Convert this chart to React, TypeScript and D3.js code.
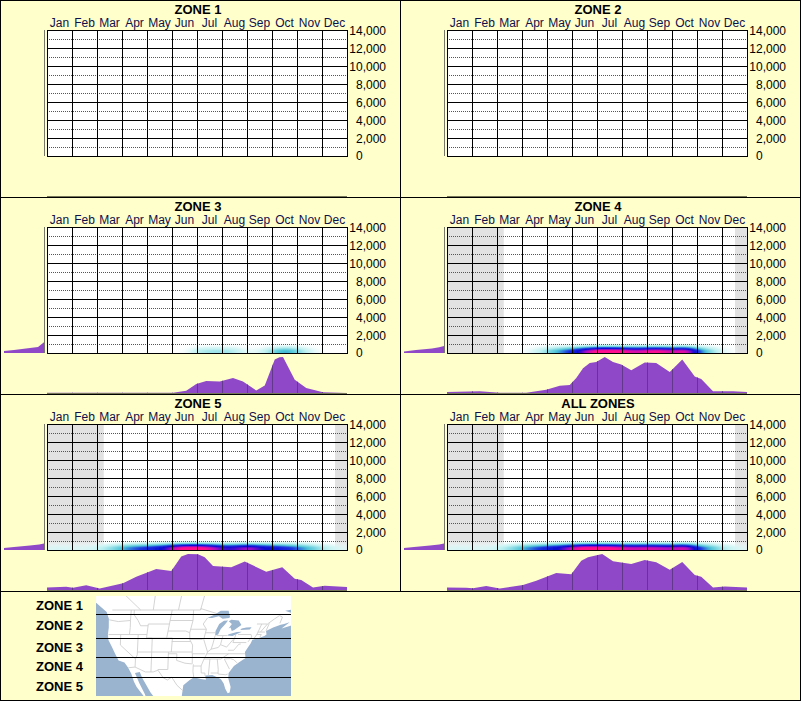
import React from 'react';
import * as d3 from 'd3';

type Pt = [number, number];

const months = ['Jan', 'Feb', 'Mar', 'Apr', 'May', 'Jun', 'Jul', 'Aug', 'Sep', 'Oct', 'Nov', 'Dec'];
const elevationTicks = [0, 2000, 4000, 6000, 8000, 10000, 12000, 14000];
const elevationMinor = [1000, 3000, 5000, 7000, 9000, 11000, 13000];
const zoneKeyLabels = ['ZONE 1', 'ZONE 2', 'ZONE 3', 'ZONE 4', 'ZONE 5'];
const zoneKeyY = [610, 630, 652, 671, 691];

// monthly sighting share, [month position, % of panel peak]
const zone3Season: Pt[] = [[0, 1], [5.04, 1], [5.57, 6], [5.97, 25], [6.37, 33], [6.91, 32], [7.44, 42], [7.84, 32], [8.37, 7], [8.71, 21], [9.11, 93], [9.3, 99], [9.44, 100], [9.91, 37], [10.37, 14], [11.04, 2], [12, 0]];
const zone4Season: Pt[] = [[0, 3], [1.31, 5], [2.11, 1], [3.17, 1], [3.97, 9], [4.51, 20], [4.91, 22], [5.17, 42], [5.44, 69], [5.71, 83], [5.97, 86], [6.31, 100], [6.64, 86], [6.97, 79], [7.37, 63], [7.91, 85], [8.37, 83], [8.91, 58], [9.41, 93], [9.91, 46], [10.17, 39], [10.64, 5], [11.44, 5], [12, 3]];
const zone5Season: Pt[] = [[0, 7], [0.77, 9], [1.04, 6], [1.57, 13], [2.11, 4], [3.04, 19], [3.57, 37], [4.37, 58], [4.97, 53], [5.37, 93], [5.64, 100], [6.04, 99], [6.31, 91], [6.64, 67], [7.37, 63], [7.91, 79], [8.77, 51], [9.41, 63], [9.91, 31], [10.17, 28], [10.64, 7], [11.11, 12], [12, 8]];
const allSeason: Pt[] = [[0, 7], [0.77, 6], [1.04, 5], [1.57, 11], [2.11, 4], [3.04, 14], [3.57, 26], [4.37, 47], [4.97, 44], [5.37, 81], [5.64, 91], [6.21, 100], [6.64, 80], [7.37, 72], [7.91, 83], [8.37, 77], [8.91, 56], [9.41, 78], [9.91, 42], [10.17, 37], [10.64, 7], [11.11, 10], [12, 7]];

// elevation share, [feet, % of panel peak]
const zone3Elev: Pt[] = [[0, 100], [220, 100], [330, 75], [550, 35], [670, 15], [1200, 0]];
const zone4Elev: Pt[] = [[0, 100], [170, 100], [330, 70], [500, 30], [640, 12], [780, 0]];
const zone5Elev: Pt[] = [[0, 100], [220, 100], [330, 75], [500, 35], [600, 12], [720, 0]];
const allElev: Pt[] = [[0, 100], [220, 100], [330, 75], [500, 35], [600, 12], [720, 0]];

// ground level heat, one value per half month (Jan 1 .. Dec 31)
const zone3Heat = [0, 0, 0, 0, 0, 0, 0, 0, 0, 0, 0, 0.06, 0.22, 0.26, 0.27, 0.22, 0.08, 0.12, 0.32, 0.46, 0.32, 0.14, 0.03, 0, 0];
const zone4Heat = [0, 0, 0, 0, 0, 0, 0.05, 0.15, 0.3, 0.45, 0.6, 0.82, 1, 1, 0.95, 0.86, 0.93, 0.95, 0.84, 0.97, 0.55, 0.3, 0.12, 0.03, 0];
const zone5Heat = [0.12, 0.14, 0.12, 0.12, 0.18, 0.28, 0.42, 0.52, 0.58, 0.66, 0.85, 1, 1, 0.9, 0.72, 0.74, 0.86, 0.72, 0.66, 0.6, 0.5, 0.38, 0.24, 0.14, 0.1];
const allHeat = [0.12, 0.14, 0.12, 0.12, 0.18, 0.28, 0.42, 0.52, 0.62, 0.72, 0.88, 1, 1, 0.97, 0.9, 0.86, 0.9, 0.86, 0.82, 0.94, 0.58, 0.4, 0.24, 0.14, 0.1];
// how the heat falls off with height, 111 ft per row from the ground up
const heatRowWeights = [1, 1, 0.97, 0.85, 0.7, 0.55, 0.38, 0.24, 0.12, 0.04];
const heatStops = [0, 0.2, 0.4, 0.55, 0.7, 0.82, 0.94];
const heatColors = ['#ffffff', '#c4f2f2', '#4cc4d6', '#1c30e0', '#0808d0', '#a40cc8', '#ff0c8c'];

// months with no data, shaded grey
const shadeWinter: Pt[] = [[0, 2.27], [11.52, 12]];

// lon / lat outlines for the key map
const landOutline: Pt[] = [[-135, 60], [-135, 53], [-128, 51], [-124.8, 48.4], [-124.1, 46.5], [-124.1, 44], [-124.4, 42], [-124.2, 40.4], [-123, 38.5], [-122, 36.8], [-120.6, 34.6], [-118.5, 34], [-117.2, 32.6], [-116, 30.8], [-115, 28.5], [-114, 27], [-112, 25], [-110, 23], [-111, 25], [-113, 28], [-114.7, 31], [-113, 31.3], [-112, 29.5], [-110.5, 27.5], [-109, 25.5], [-107, 23.5], [-100, 21], [-97.8, 22.5], [-97.5, 25], [-97.2, 27.5], [-95, 29], [-93.5, 29.8], [-91, 29.3], [-89.2, 29.1], [-89.5, 30.3], [-87, 30.4], [-85, 29.7], [-83.8, 29.2], [-82.7, 28], [-82, 26.5], [-81, 25.2], [-80.3, 25.4], [-80.1, 27], [-81.2, 29.5], [-81.2, 31], [-79.5, 33], [-77.5, 34.2], [-75.6, 35.3], [-76, 37], [-75.3, 38], [-74.2, 39.5], [-74, 40.5], [-72, 41], [-70.5, 41.6], [-70, 42], [-70.8, 43], [-69, 44], [-67, 44.8], [-66, 45], [-64.5, 45.5], [-66, 43.7], [-63.5, 44.5], [-61, 45.5], [-60, 46.5], [-64, 46.3], [-65, 48], [-68, 48.8], [-64.5, 49.3], [-60, 50], [-55, 52], [-55, 60]];
const lakes: Pt[][] = [
  [[-92, 46.7], [-90, 47.7], [-88.5, 48.8], [-86, 48.8], [-84.8, 47], [-85, 46.7], [-87, 46.5], [-88.5, 47.2], [-90.5, 46.7]],
  [[-87.5, 41.7], [-87.9, 43], [-87.5, 45], [-86.3, 45.9], [-85, 46], [-85.5, 44.9], [-86.4, 43.5], [-86.6, 42]],
  [[-84.7, 45.8], [-84, 46.2], [-81.5, 46], [-80, 44.7], [-81.7, 43.3], [-82.4, 43], [-83.3, 44], [-83.8, 43.7], [-83.3, 45]],
  [[-83.4, 41.7], [-81.5, 41.6], [-78.9, 42.8], [-80.5, 42.7], [-83, 42.1]],
  [[-79.7, 43.3], [-76.5, 43.4], [-76.3, 44.1], [-78, 44], [-79.4, 43.7]],
];
const stateLines: Pt[][] = [
  [[-123, 49], [-95, 49], [-95, 49.4], [-89.5, 48]],
  [[-75, 45], [-71.5, 45], [-70, 46.5], [-69, 47.4], [-67.8, 47], [-67.5, 45.2]],
  [[-117.1, 32.5], [-114.7, 32.7], [-111, 31.3], [-108.2, 31.3], [-106.5, 31.8], [-104.5, 29.6], [-103, 29], [-101.5, 29.8], [-99.5, 27.5], [-97.2, 25.9]],
  [[-124, 46.2], [-121, 45.7], [-117, 46]],
  [[-117, 49], [-117, 46], [-116.9, 44], [-117, 42]],
  [[-124.2, 42], [-111, 42]],
  [[-120, 42], [-120, 39], [-114.6, 35], [-114.7, 32.7]],
  [[-116, 49], [-116, 47.7], [-114.5, 46], [-113.5, 44.5], [-111, 44.5]],
  [[-111, 45], [-104, 45]],
  [[-111, 45], [-111, 41], [-109, 41]],
  [[-114, 42], [-114, 36.2], [-114.6, 35]],
  [[-109, 41], [-109, 31.3]],
  [[-114, 37], [-94.6, 37]],
  [[-111, 41], [-102, 41]],
  [[-104, 49], [-104, 41]],
  [[-102, 41], [-102, 37]],
  [[-102, 40], [-95.3, 40]],
  [[-104, 46], [-96.5, 46]],
  [[-104, 43], [-98, 43], [-96.5, 42.5]],
  [[-97.2, 49], [-96.5, 46], [-96.5, 42.5], [-95.8, 40.5], [-94.6, 39], [-94.6, 36.5]],
  [[-96.5, 43.5], [-91.2, 43.5]],
  [[-92, 46.7], [-92.8, 45], [-91.2, 43.5], [-91, 40.6], [-89.2, 37], [-89.7, 36], [-90.3, 35], [-91.2, 33], [-91, 31], [-89.7, 31], [-89.6, 30.2]],
  [[-95.8, 40.6], [-91.4, 40.6]],
  [[-91, 42.5], [-87.8, 42.5]],
  [[-87.5, 41.7], [-87.5, 39.3], [-88, 37.8]],
  [[-84.8, 41.7], [-84.8, 39.1]],
  [[-87, 41.7], [-83.4, 41.7]],
  [[-89.2, 37], [-88, 37.8], [-85.5, 38.3], [-84.8, 39.1], [-82.6, 38.4], [-80.7, 40.6]],
  [[-80.5, 42], [-80.5, 39.7], [-75.8, 39.7]],
  [[-79.8, 42], [-75.3, 42], [-74.7, 41.3], [-75.2, 39.9]],
  [[-73.4, 45], [-73.3, 42], [-73.6, 41]],
  [[-73.4, 42.7], [-71, 42.7]],
  [[-73.5, 42], [-71.8, 42], [-71.8, 41.3]],
  [[-71.5, 45], [-72.5, 42.7]],
  [[-71, 45.2], [-70.8, 43]],
  [[-89.5, 36.5], [-75.9, 36.5]],
  [[-82, 37.5], [-80, 37.5], [-78.4, 39.2], [-77.7, 39.3]],
  [[-90.3, 35], [-84.3, 35], [-81.7, 36.5]],
  [[-88.2, 35], [-88.4, 30.3]],
  [[-85.6, 35], [-85, 32], [-85, 31]],
  [[-87.6, 31], [-85, 31], [-84.9, 30.7], [-82.2, 30.5], [-81.5, 30.7]],
  [[-83.1, 35], [-81, 32.1]],
  [[-83.1, 35], [-81, 35.1], [-79.7, 34.8], [-78.5, 33.9]],
  [[-94, 33], [-91.2, 33]],
  [[-94, 33.5], [-94, 31.5], [-93.6, 29.8]],
  [[-103, 36.5], [-100, 36.5], [-100, 34.6], [-97, 33.8], [-94.5, 33.6]],
  [[-103, 37], [-103, 32], [-106.6, 32]],
  [[-94.5, 36.5], [-94.4, 33.6]],
  [[-94.6, 36.5], [-90, 36.5]],
  [[-110, 49], [-110, 60]],
  [[-102, 49], [-102, 60]],
  [[-95, 49], [-95, 53], [-89, 57]],
  [[-114, 49], [-120, 54], [-120, 60]],
];
const zoneBreakLats = [48, 41.14, 35.7, 30];

const panels = [
  { title: 'ZONE 1', col: 0, row: 0, season: null, elev: null, heat: null, shade: [] },
  { title: 'ZONE 2', col: 1, row: 0, season: null, elev: null, heat: null, shade: [] },
  { title: 'ZONE 3', col: 0, row: 1, season: zone3Season, elev: zone3Elev, heat: zone3Heat, shade: [] },
  { title: 'ZONE 4', col: 1, row: 1, season: zone4Season, elev: zone4Elev, heat: zone4Heat, shade: shadeWinter },
  { title: 'ZONE 5', col: 0, row: 2, season: zone5Season, elev: zone5Elev, heat: zone5Heat, shade: shadeWinter },
  { title: 'ALL ZONES', col: 1, row: 2, season: allSeason, elev: allElev, heat: allHeat, shade: shadeWinter },
];

const FONT = '"Liberation Sans", Arial, sans-serif';
const CREAM = '#ffffcc';

const x = d3.scaleLinear().domain([0, 12]).range([47, 347]);
const y = d3.scaleLinear().domain([0, 14000]).range([156, 30]);
const seasonY = d3.scaleLinear().domain([0, 100]).range([196, 160]);
const elevX = d3.scaleLinear().domain([0, 100]).range([44, 4]);
const heatColor = d3.scaleLinear<string>().domain(heatStops).range(heatColors).clamp(true);
const heatColumns = d3.range(0, 12, 0.08);
const ROW_FT = 111;

const Heat = ({ values }: { values: number[] }) => {
  const along = d3.interpolateBasis(values);
  return (
    <g filter="url(#soft)">
      {heatColumns.map(m => {
        const v = along(m / 12);
        if (v < 0.03) return null;
        return heatRowWeights.map((w, r) => (
          <rect
            key={`${m}-${r}`}
            x={x(m)}
            y={y((r + 1) * ROW_FT)}
            width={x(0.08) - x(0) + 0.3}
            height={y(0) - y(ROW_FT) + 0.2}
            fill={heatColor(v * w)}
            fillOpacity={Math.min(1, (v * w) / 0.15)}
          />
        ));
      })}
    </g>
  );
};

const Panel = ({ p, id }: { p: (typeof panels)[number]; id: number }) => {
  const seasonArea = d3.area<Pt>()
    .x(d => x(d[0]))
    .y0(seasonY(0))
    .y1(d => seasonY(d[1]));
  const elevArea = d3.area<Pt>()
    .y(d => y(d[0]))
    .x0(elevX(0))
    .x1(d => elevX(d[1]));

  const seasonPath = p.season ? seasonArea(p.season) ?? '' : '';

  return (
    <g transform={`translate(${p.col * 400},${p.row * 197})`}>
      <text x={198} y={14} textAnchor="middle" fontFamily={FONT} fontWeight="bold" fontSize={13}>{p.title}</text>

      {months.map((m, i) => (
        <text key={m} x={x(i + 0.5)} y={27} textAnchor="middle" fontFamily={FONT} fontSize={12} fill="#10104a">{m}</text>
      ))}

      <clipPath id={`plot-${id}`}>
        <rect x={x(0)} y={y(14000)} width={x(12) - x(0)} height={y(0) - y(14000)} />
      </clipPath>
      <clipPath id={`season-${id}`}>
        <path d={seasonPath} />
      </clipPath>

      <rect x={x(0)} y={y(14000)} width={x(12) - x(0)} height={y(0) - y(14000)} fill="#fff" />
      <g clipPath={`url(#plot-${id})`}>
        {p.shade.map((s, i) => (
          <rect key={i} x={x(s[0])} y={y(14000)} width={x(s[1]) - x(s[0])} height={y(0) - y(14000)} fill="#e2e2e2" />
        ))}
        {p.heat && <Heat values={p.heat} />}
      </g>

      {elevationMinor.map(t => (
        <line key={t} x1={x(0)} x2={x(12)} y1={y(t) + 0.5} y2={y(t) + 0.5} stroke="#555" strokeDasharray="1 1" shapeRendering="crispEdges" />
      ))}
      {elevationTicks.map(t => (
        <line key={t} x1={x(0)} x2={x(12) + 1} y1={y(t) + 0.5} y2={y(t) + 0.5} stroke="#000" shapeRendering="crispEdges" />
      ))}
      {d3.range(13).map(i => (
        <line key={i} x1={x(i) + 0.5} x2={x(i) + 0.5} y1={y(14000)} y2={y(0)} stroke="#000" shapeRendering="crispEdges" />
      ))}
      {elevationTicks.map(t => (
        <text
          key={t}
          x={t === 0 ? 356 : 386}
          y={t === 0 ? y(t) + 4 : y(t) + 5}
          textAnchor={t === 0 ? 'start' : 'end'}
          fontFamily={FONT}
          fontSize={12}
        >
          {d3.format(',')(t)}
        </text>
      ))}

      {p.elev && <path d={elevArea(p.elev) ?? ''} fill="#8f49c8" />}
      <line x1={44.5} x2={44.5} y1={y(14000)} y2={y(0)} stroke="#77776a" shapeRendering="crispEdges" />

      {p.season && <path d={seasonPath} fill="#8f49c8" />}
      {p.season && (
        <g clipPath={`url(#season-${id})`}>
          {d3.range(1, 12).map(i => (
            <line key={i} x1={x(i) + 0.5} x2={x(i) + 0.5} y1={seasonY(100)} y2={seasonY(0)} stroke="#62388c" shapeRendering="crispEdges" />
          ))}
        </g>
      )}
      <line x1={x(0)} x2={x(12)} y1={196.5} y2={196.5} stroke="#77775a" shapeRendering="crispEdges" />
    </g>
  );
};

const KeyMap = () => {
  // the base map squeezes longitudes towards the south
  const stretch = d3.scaleLinear().domain([25, 40, 49]).range([2.76, 2.85, 3.15]);
  const mapX = (d: Pt) => 107 + (d[0] + 124.7) * stretch(d[1]);
  const lat = d3.scaleLinear().domain([49, 25]).range([610, 694]);
  const line = d3.line<Pt>().x(mapX).y(d => lat(d[1]));
  const closed = d3.line<Pt>().x(mapX).y(d => lat(d[1])).curve(d3.curveLinearClosed);
  return (
    <g>
      <clipPath id="map-clip">
        <rect x={96} y={596} width={195} height={100} />
      </clipPath>
      <g clipPath="url(#map-clip)">
        <rect x={96} y={596} width={195} height={100} fill="#9ab3cf" />
        <path d={closed(landOutline) ?? ''} fill="#fff" />
        {stateLines.map((s, i) => (
          <path key={i} d={line(s) ?? ''} fill="none" stroke="#cfcfcf" strokeWidth={0.9} />
        ))}
        {lakes.map((l, i) => (
          <path key={i} d={closed(l) ?? ''} fill="#9ab3cf" />
        ))}
      </g>
      {zoneBreakLats.map(l => (
        <line key={l} x1={96} x2={291} y1={Math.round(lat(l)) + 0.5} y2={Math.round(lat(l)) + 0.5} stroke="#000" shapeRendering="crispEdges" />
      ))}
      {zoneKeyLabels.map((label, i) => (
        <text key={label} x={36} y={zoneKeyY[i]} fontFamily={FONT} fontWeight="bold" fontSize={13}>{label}</text>
      ))}
    </g>
  );
};

export default function App() {
  return (
    <svg width={801} height={701} style={{ position: 'absolute', left: 0, top: 0 }}>
      <defs>
        <filter id="soft" x="-5%" y="-20%" width="110%" height="140%">
          <feGaussianBlur stdDeviation="1 0.35" />
        </filter>
      </defs>
      <rect x={0.5} y={0.5} width={800} height={700} fill={CREAM} stroke="#000" shapeRendering="crispEdges" />
      {panels.map((p, i) => <Panel key={p.title} p={p} id={i} />)}
      {[197, 394, 591].map(v => (
        <line key={v} x1={0} x2={801} y1={v + 0.5} y2={v + 0.5} stroke="#000" shapeRendering="crispEdges" />
      ))}
      <line x1={400.5} x2={400.5} y1={0} y2={591} stroke="#000" shapeRendering="crispEdges" />
      <KeyMap />
    </svg>
  );
}
